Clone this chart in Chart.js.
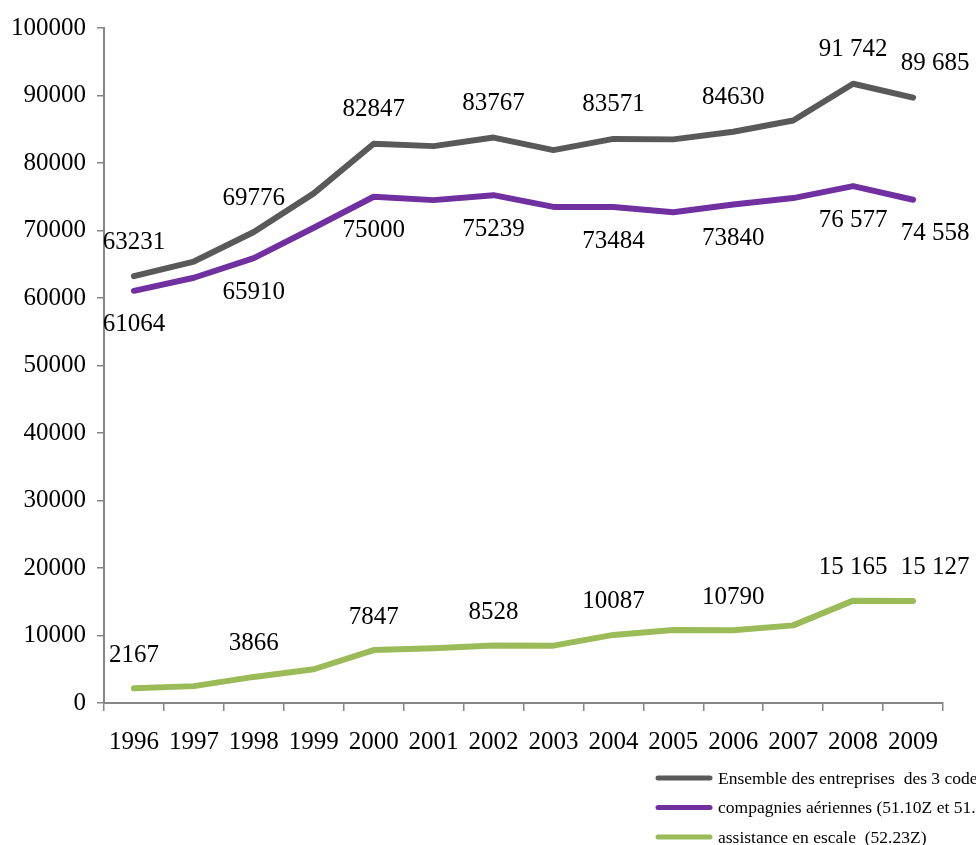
<!DOCTYPE html>
<html>
<head>
<meta charset="utf-8">
<script src="https://cdn.jsdelivr.net/npm/chart.js@4/dist/chart.umd.min.js"></script>
<style>
  html, body { margin: 0; padding: 0; background: #ffffff; }
  #wrap { position: relative; width: 976px; height: 845px; }
</style>
</head>
<body>
<div id="wrap"><canvas id="c" width="976" height="845"></canvas></div>
<script>
const years = ['1996','1997','1998','1999','2000','2001','2002','2003','2004','2005','2006','2007','2008','2009'];
const yTicks = [0,10000,20000,30000,40000,50000,60000,70000,80000,90000,100000];

const seriesNames = [
  'Ensemble des entreprises  des 3 codes',
  'compagnies aériennes (51.10Z et 51.21Z)',
  'assistance en escale  (52.23Z)'
];
const ensemble    = [63231, 65400, 69776, 75500, 82847, 82500, 83767, 81900, 83571, 83500, 84630, 86300, 91742, 89685];
const compagnies  = [61064, 63000, 65910, 70400, 75000, 74500, 75239, 73500, 73484, 72700, 73840, 74800, 76577, 74558];
const assistance  = [2167, 2500, 3866, 5000, 7847, 8100, 8528, 8500, 10087, 10800, 10790, 11500, 15165, 15127];

const labelIndex = [0, 2, 4, 6, 8, 10, 12, 13];
const ensembleLabels   = ['63231','69776','82847','83767','83571','84630','91 742','89 685'];
const compagniesLabels = ['61064','65910','75000','75239','73484','73840','76 577','74 558'];
const assistanceLabels = ['2167','3866','7847','8528','10087','10790','15 165','15 127'];

const colors = ['#595959', '#7030a0', '#9bbb59'];
const serif = "'Liberation Serif', 'Times New Roman', serif";

const pointLabelsPlugin = {
  id: 'pointLabels',
  afterDatasetsDraw(chart, args, opts) {
    const ctx = chart.ctx;
    ctx.save();
    ctx.font = opts.font;
    ctx.fillStyle = opts.color;
    ctx.textAlign = 'center';
    ctx.textBaseline = 'middle';
    opts.sets.forEach((s, di) => {
      const meta = chart.getDatasetMeta(di);
      s.index.forEach((idx, k) => {
        const el = meta.data[idx];
        if (!el) return;
        const dx = (idx === years.length - 1) ? opts.lastDx : 0;
        ctx.fillText(s.text[k], el.x + dx, el.y + s.dy);
      });
    });
    ctx.restore();
  }
};

const legendPlugin = {
  id: 'sideLegend',
  afterDraw(chart, args, opts) {
    const ctx = chart.ctx;
    ctx.save();
    ctx.font = opts.font;
    ctx.fillStyle = '#000';
    ctx.textAlign = 'left';
    ctx.textBaseline = 'middle';
    chart.data.datasets.forEach((ds, i) => {
      const y = opts.y0 + i * opts.rowGap;
      ctx.strokeStyle = ds.borderColor;
      ctx.lineWidth = 5;
      ctx.lineCap = 'round';
      ctx.beginPath();
      ctx.moveTo(opts.x0, y);
      ctx.lineTo(opts.x0 + opts.lineLen, y);
      ctx.stroke();
      ctx.fillText(ds.label, opts.x0 + opts.lineLen + 8, y + 1);
    });
    ctx.restore();
  }
};

const lineStyle = (label, data, color) => ({
  label, data,
  borderColor: color,
  backgroundColor: color,
  borderWidth: 6,
  pointRadius: 0,
  pointHoverRadius: 0,
  tension: 0,
  fill: false,
  borderJoinStyle: 'round',
  borderCapStyle: 'round'
});

new Chart(document.getElementById('c'), {
  type: 'line',
  data: {
    labels: years,
    datasets: [
      lineStyle(seriesNames[0], ensemble, colors[0]),
      lineStyle(seriesNames[1], compagnies, colors[1]),
      lineStyle(seriesNames[2], assistance, colors[2])
    ]
  },
  plugins: [pointLabelsPlugin, legendPlugin],
  options: {
    responsive: false,
    animation: false,
    events: [],
    layout: { padding: { left: 0, right: 33, top: 28, bottom: 82 } },
    plugins: {
      legend: { display: false },
      tooltip: { enabled: false },
      pointLabels: {
        font: '25px ' + serif,
        color: '#000',
        lastDx: 22,
        sets: [
          { index: labelIndex, text: ensembleLabels, dy: -34 },
          { index: labelIndex, text: compagniesLabels, dy: 34 },
          { index: labelIndex, text: assistanceLabels, dy: -33 }
        ]
      },
      sideLegend: {
        font: '17.5px ' + serif,
        x0: 658, y0: 778, rowGap: 29.5, lineLen: 52
      }
    },
    scales: {
      x: {
        type: 'category',
        offset: true,
        grid: { display: true, drawOnChartArea: false, drawTicks: true, tickLength: 8, color: '#868686', lineWidth: 1.5, offset: true },
        border: { display: true, color: '#868686', width: 2 },
        ticks: { font: { family: serif, size: 25 }, color: '#000', padding: 16, maxRotation: 0, autoSkip: false },
        afterFit(scale) { scale.height = 60; }
      },
      y: {
        min: 0, max: 100000,
        afterBuildTicks(scale) { scale.ticks = yTicks.map(v => ({ value: v })); },
        grid: { display: true, drawOnChartArea: false, drawTicks: true, tickLength: 7, color: '#868686', lineWidth: 1.5 },
        border: { display: true, color: '#868686', width: 2 },
        ticks: { font: { family: serif, size: 25 }, color: '#000', padding: 11, callback: v => String(v) },
        afterFit(scale) { scale.width = 104; }
      }
    }
  }
});
</script>
</body>
</html>
